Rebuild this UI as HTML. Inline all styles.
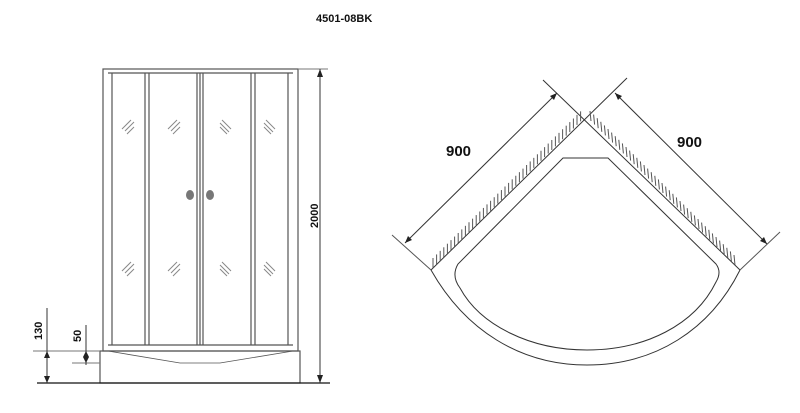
<!DOCTYPE html>
<html><head><meta charset="utf-8"><style>
html,body{margin:0;padding:0;background:#fff;}
svg{display:block}
text{font-family:"Liberation Sans",sans-serif;font-weight:bold;fill:#111}
</style></head><body>
<svg id="s" width="800" height="413" viewBox="0 0 800 413" xmlns="http://www.w3.org/2000/svg">
<text x="316" y="22" font-size="11">4501-08BK</text>
<g stroke="#555" stroke-width="1.2" fill="none">
 <rect x="103" y="69" width="195" height="282"/>
 <line x1="108" y1="73" x2="293" y2="73"/>
 <line x1="108" y1="345" x2="293" y2="345"/>
 <line x1="112" y1="73" x2="112" y2="345"/>
 <line x1="145" y1="73" x2="145" y2="345"/>
 <line x1="149" y1="73" x2="149" y2="345"/>
 <line x1="197" y1="73" x2="197" y2="345"/>
 <line x1="200" y1="73" x2="200" y2="345"/>
 <line x1="203" y1="73" x2="203" y2="345"/>
 <line x1="251" y1="73" x2="251" y2="345"/>
 <line x1="255" y1="73" x2="255" y2="345"/>
 <line x1="288" y1="73" x2="288" y2="345"/>
 <rect x="100" y="351" width="200" height="32"/>
 <path d="M108 351 L180 363 L220 363 L293 351" stroke-width="0.8"/>
</g>
<g stroke="#888" stroke-width="1">
 <path d="M122 129l9-9M125 131l9-9M127 134l7-7"/>
 <path d="M168 129l9-9M171 131l9-9M173 134l7-7"/>
 <path d="M222 120l9 9M220 123l9 9M220 127l7 7"/>
 <path d="M266 120l9 9M264 123l9 9M264 127l7 7"/>
 <path d="M122 271l9-9M125 273l9-9M127 276l7-7"/>
 <path d="M168 271l9-9M171 273l9-9M173 276l7-7"/>
 <path d="M222 262l9 9M220 265l9 9M220 269l7 7"/>
 <path d="M266 262l9 9M264 265l9 9M264 269l7 7"/>
</g>
<ellipse cx="190" cy="195" rx="4" ry="5" fill="#777"/>
<ellipse cx="210" cy="195" rx="4" ry="5" fill="#777"/>
<g stroke="#333" stroke-width="1" fill="none">
 <line x1="37" y1="383" x2="330" y2="383" stroke="#111" stroke-width="1.3"/>
 <line x1="298" y1="69" x2="328" y2="69" stroke="#777"/>
 <line x1="320" y1="69" x2="320" y2="383"/>
 <line x1="33" y1="351" x2="100" y2="351" stroke="#777"/>
 <line x1="72" y1="363" x2="100" y2="363" stroke="#777"/>
 <line x1="47" y1="308" x2="47" y2="383"/>
 <line x1="86" y1="325" x2="86" y2="365"/>
</g>
<g fill="#222">
 <path d="M320 69l-3 8h6z"/><path d="M320 383l-3-8h6z"/>
 <path d="M47 351l-3 7h6z"/><path d="M47 383l-3-7h6z"/>
 <path d="M86 351l-3 6h6z"/><path d="M86 363l-3-6h6z"/>
</g>
<text transform="translate(318,228) rotate(-90)" font-size="11">2000</text>
<text transform="translate(42,340) rotate(-90)" font-size="11">130</text>
<text transform="translate(81,342) rotate(-90)" font-size="11">50</text>
<g stroke="#333" stroke-width="1" fill="none">
 <path d="M543 80 L740 270"/>
 <path d="M627 78 L431 270"/>
 <path d="M431 270 C465 330 520 365 587 365 C655 365 710 330 740 270"/>
 <path d="M563 158 L608 158 L716 264 Q722 272 716 282 C695 325 645 350 587 350 C530 350 480 325 460 288 Q451 276 458 264 Z"/>
 <line x1="392" y1="235" x2="431" y2="270" stroke="#555"/>
 <line x1="780" y1="232" x2="740" y2="270" stroke="#555"/>
 <line x1="405" y1="243" x2="557" y2="93"/>
 <line x1="615" y1="93" x2="767" y2="244"/>
</g>
<g fill="#222">
 <path d="M405 243l3-7 4 4z"/><path d="M557 93l-3 7-4-4z"/>
 <path d="M615 93l7 3-4 4z"/><path d="M767 244l-7-3 4-4z"/>
</g>
<g id="h" stroke="#555" stroke-width="1"></g>
<text x="446" y="156" font-size="15">900</text>
<text x="677" y="147" font-size="15">900</text>
</svg>
<script>
var g=document.getElementById('h'),s='';
for(var x=433;x<584;x+=3.6){var y=270-(x-431)*(155/156);s+='<line x1="'+x+'" y1="'+y+'" x2="'+x+'" y2="'+(y-10)+'"/>';}
for(var x=591;x<738;x+=3.6){var y=117+(x-587)*(153/153);s+='<line x1="'+x+'" y1="'+y+'" x2="'+(x-1)+'" y2="'+(y-10)+'"/>';}
g.innerHTML=s;
</script>
</body></html>
